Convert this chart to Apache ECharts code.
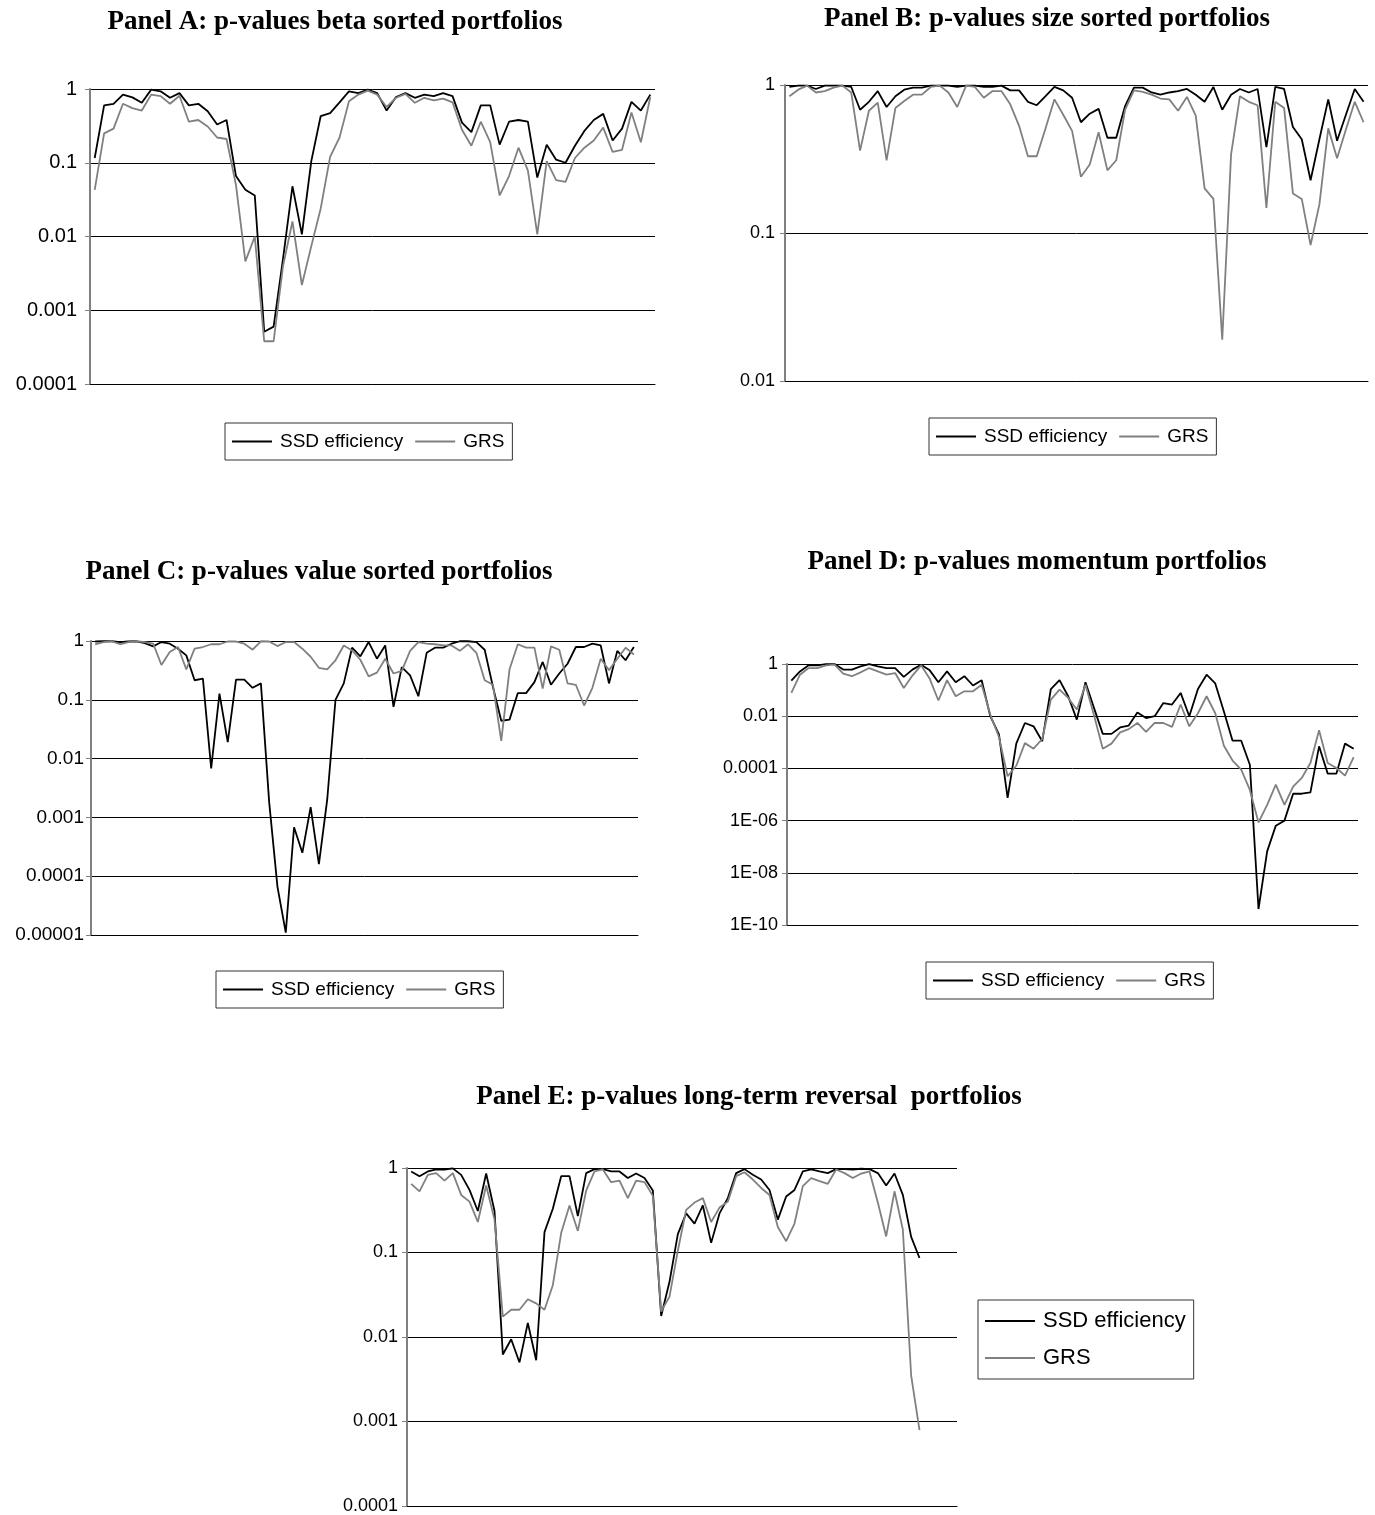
<!DOCTYPE html>
<html>
<head>
<meta charset="utf-8">
<script src="https://cdn.jsdelivr.net/npm/echarts@6/dist/echarts.min.js"></script>
<style>
html,body{margin:0;padding:0;background:#fff;}
#chart{width:1375px;height:1515px;}
</style>
</head>
<body>
<div id="chart"></div>
<script>
// ---------- DATA ----------
const seriesNames = ['SSD efficiency', 'GRS'];

const titleA = 'Panel A: p-values beta sorted portfolios';
const titleB = 'Panel B: p-values size sorted portfolios';
const titleC = 'Panel C: p-values value sorted portfolios';
const titleD = 'Panel D: p-values momentum portfolios';
const titleE = 'Panel E: p-values long-term reversal  portfolios';

const ticksA = ['1', '0.1', '0.01', '0.001', '0.0001'];
const ticksB = ['1', '0.1', '0.01'];
const ticksC = ['1', '0.1', '0.01', '0.001', '0.0001', '0.00001'];
const ticksD = ['1', '0.01', '0.0001', '1E-06', '1E-08', '1E-10'];
const ticksE = ['1', '0.1', '0.01', '0.001', '0.0001'];

const ssdA = [0.116, 0.6, 0.63, 0.84, 0.77, 0.65, 0.98, 0.93, 0.76, 0.88,
  0.6, 0.63, 0.5, 0.33, 0.38, 0.066, 0.043, 0.036, 0.00051, 0.0006,
  0.005, 0.048, 0.0107, 0.105, 0.43, 0.47, 0.66, 0.93, 0.88, 0.98,
  0.88, 0.51, 0.78, 0.88, 0.76, 0.84, 0.8, 0.88, 0.8, 0.35,
  0.26, 0.6, 0.6, 0.176, 0.36, 0.38, 0.36, 0.063, 0.175, 0.11,
  0.1, 0.17, 0.27, 0.38, 0.46, 0.2, 0.29, 0.67, 0.51, 0.84];
const grsA = [0.043, 0.25, 0.29, 0.63, 0.55, 0.51, 0.84, 0.8, 0.63, 0.81,
  0.36, 0.38, 0.31, 0.22, 0.21, 0.05, 0.0046, 0.01, 0.00038, 0.00038,
  0.004, 0.016, 0.0022, 0.0074, 0.024, 0.12, 0.22, 0.68, 0.84, 0.95,
  0.84, 0.57, 0.76, 0.86, 0.65, 0.76, 0.7, 0.74, 0.66, 0.28,
  0.17, 0.36, 0.19, 0.036, 0.066, 0.16, 0.079, 0.0107, 0.105, 0.058,
  0.055, 0.116, 0.16, 0.2, 0.3, 0.14, 0.15, 0.48, 0.19, 0.78];

const ssdB = [0.97, 0.99, 0.99, 0.94, 0.99, 0.99, 0.99, 0.97, 0.68, 0.77,
  0.91, 0.71, 0.84, 0.93, 0.96, 0.96, 0.99, 0.99, 0.99, 0.97,
  0.99, 0.99, 0.97, 0.97, 0.99, 0.92, 0.92, 0.77, 0.73, 0.84,
  0.97, 0.92, 0.82, 0.56, 0.64, 0.69, 0.44, 0.44, 0.72, 0.96,
  0.96, 0.89, 0.86, 0.89, 0.91, 0.94, 0.86, 0.77, 0.97, 0.68,
  0.86, 0.94, 0.89, 0.94, 0.38, 0.97, 0.94, 0.52, 0.43, 0.227,
  0.43, 0.8, 0.42, 0.63, 0.94, 0.77];
const grsB = [0.84, 0.93, 0.99, 0.89, 0.91, 0.96, 0.99, 0.89, 0.36, 0.67,
  0.76, 0.31, 0.7, 0.78, 0.86, 0.86, 0.97, 0.99, 0.89, 0.71,
  0.99, 0.97, 0.82, 0.91, 0.91, 0.74, 0.53, 0.33, 0.33, 0.51,
  0.8, 0.63, 0.49, 0.24, 0.29, 0.48, 0.265, 0.31, 0.68, 0.92,
  0.9, 0.86, 0.81, 0.8, 0.67, 0.83, 0.62, 0.2, 0.17, 0.019,
  0.34, 0.84, 0.77, 0.73, 0.148, 0.77, 0.7, 0.185, 0.17, 0.083,
  0.156, 0.51, 0.32, 0.5, 0.77, 0.56];

const ssdC = [0.98, 0.99, 0.99, 0.96, 0.98, 0.99, 0.92, 0.81, 0.96, 0.9,
  0.74, 0.57, 0.215, 0.23, 0.0068, 0.127, 0.019, 0.22, 0.22, 0.16,
  0.19, 0.0018, 0.000066, 0.000011, 0.00068, 0.00025, 0.0015, 0.00016, 0.002, 0.1,
  0.19, 0.77, 0.55, 0.96, 0.5, 0.84, 0.076, 0.36, 0.26, 0.115,
  0.63, 0.77, 0.77, 0.9, 0.99, 0.99, 0.96, 0.71, 0.165, 0.044,
  0.046, 0.13, 0.13, 0.2, 0.44, 0.18, 0.28, 0.41, 0.79, 0.79,
  0.9, 0.84, 0.19, 0.68, 0.47, 0.79];
const grsC = [0.88, 0.96, 0.99, 0.88, 0.96, 0.99, 0.96, 0.9, 0.39, 0.65,
  0.79, 0.33, 0.74, 0.79, 0.88, 0.88, 0.98, 0.98, 0.9, 0.71,
  0.99, 0.98, 0.82, 0.96, 0.96, 0.74, 0.54, 0.35, 0.33, 0.47,
  0.84, 0.69, 0.48, 0.25, 0.29, 0.5, 0.28, 0.31, 0.68, 0.96,
  0.9, 0.88, 0.84, 0.84, 0.68, 0.88, 0.63, 0.215, 0.18, 0.02,
  0.33, 0.88, 0.77, 0.77, 0.155, 0.81, 0.71, 0.19, 0.18, 0.08,
  0.16, 0.5, 0.32, 0.5, 0.77, 0.59];

const ssdD = [0.23, 0.52, 0.89, 0.89, 0.99, 0.99, 0.61, 0.61, 0.81, 0.99,
  0.81, 0.7, 0.7, 0.32, 0.61, 0.94, 0.57, 0.2, 0.52, 0.2,
  0.34, 0.15, 0.24, 0.01, 0.002, 7.4e-6, 0.00089, 0.0055, 0.0041, 0.0011,
  0.11, 0.24, 0.058, 0.0074, 0.2, 0.02, 0.0021, 0.0021, 0.0037, 0.0044,
  0.014, 0.0085, 0.01, 0.032, 0.028, 0.078, 0.01, 0.11, 0.39, 0.18,
  0.015, 0.00115, 0.00115, 0.000138, 4.1e-10, 6.6e-8, 6.4e-7, 1e-6, 1.07e-5, 1.07e-5,
  1.2e-5, 0.0007, 6.3e-5, 6.3e-5, 0.00089, 0.00057];
const grsD = [0.078, 0.39, 0.7, 0.7, 0.89, 0.94, 0.43, 0.34, 0.48, 0.7,
  0.52, 0.39, 0.45, 0.12, 0.36, 0.89, 0.27, 0.04, 0.24, 0.058,
  0.09, 0.09, 0.16, 0.0115, 0.0016, 5e-5, 0.000126, 0.00093, 0.00057, 0.00134,
  0.043, 0.104, 0.05, 0.018, 0.16, 0.0105, 0.00057, 0.00089, 0.0024, 0.0032,
  0.0055, 0.0025, 0.0055, 0.0055, 0.0039, 0.028, 0.0041, 0.013, 0.058, 0.013,
  0.00074, 0.0002, 8.9e-5, 1.5e-5, 8.5e-7, 4e-6, 2.4e-5, 4e-6, 2e-5, 4.3e-5,
  0.00016, 0.0029, 0.00016, 0.000104, 5.3e-5, 0.00027];

const ssdE = [0.91, 0.8, 0.91, 0.96, 0.96, 0.99, 0.83, 0.55, 0.31, 0.86,
  0.31, 0.0062, 0.0094, 0.005, 0.0147, 0.0053, 0.174, 0.33, 0.8, 0.8,
  0.27, 0.87, 0.97, 0.97, 0.91, 0.91, 0.76, 0.86, 0.76, 0.54,
  0.0177, 0.045, 0.165, 0.29, 0.22, 0.36, 0.13, 0.29, 0.44, 0.87,
  0.97, 0.83, 0.73, 0.55, 0.245, 0.46, 0.55, 0.91, 0.96, 0.91,
  0.87, 0.97, 0.97, 0.96, 0.98, 0.97, 0.87, 0.62, 0.86, 0.48,
  0.153, 0.086];
const grsE = [0.65, 0.53, 0.83, 0.87, 0.71, 0.87, 0.48, 0.4, 0.23, 0.62,
  0.245, 0.0174, 0.021, 0.021, 0.028, 0.025, 0.021, 0.041, 0.17, 0.36,
  0.18, 0.54, 0.91, 0.96, 0.68, 0.71, 0.44, 0.71, 0.68, 0.47,
  0.02, 0.03, 0.105, 0.32, 0.39, 0.44, 0.23, 0.34, 0.4, 0.8,
  0.89, 0.73, 0.58, 0.48, 0.2, 0.136, 0.22, 0.61, 0.76, 0.7,
  0.65, 0.96, 0.87, 0.76, 0.86, 0.91, 0.39, 0.155, 0.53, 0.187,
  0.0035, 0.00079];

// number of categories on each x axis
const nCatA = 60, nCatB = 66, nCatC = 66, nCatD = 66, nCatE = 66;

// ---------- BUILD ----------
function cats(n) { const a = []; for (let i = 1; i <= n; i++) a.push(String(i)); return a; }

const panels = [
  { title: titleA, ticks: ticksA, step: 1, ssd: ssdA, grs: grsA, n: nCatA,
    grid: { left: 90, top: 89, width: 565, height: 295 }, tx: 335, ty: 22,
    lab: { size: 20, margin: 13 }, legend: { left: 225, top: 423 } },
  { title: titleB, ticks: ticksB, step: 1, ssd: ssdB, grs: grsB, n: nCatB,
    grid: { left: 785, top: 85, width: 583, height: 296 }, tx: 1047, ty: 19,
    lab: { size: 18, margin: 10 }, legend: { left: 929, top: 418 } },
  { title: titleC, ticks: ticksC, step: 1, ssd: ssdC, grs: grsC, n: nCatC,
    grid: { left: 91, top: 641, width: 547, height: 294 }, tx: 319, ty: 572,
    lab: { size: 19, margin: 7 }, legend: { left: 216, top: 971 } },
  { title: titleD, ticks: ticksD, step: 2, ssd: ssdD, grs: grsD, n: nCatD,
    grid: { left: 787, top: 664, width: 571, height: 261 }, tx: 1037, ty: 562,
    lab: { size: 18, margin: 9 }, legend: { left: 926, top: 962 } },
  { title: titleE, ticks: ticksE, step: 1, ssd: ssdE, grs: grsE, n: nCatE,
    grid: { left: 407, top: 1168, width: 550, height: 338 }, tx: 749, ty: 1097,
    lab: { size: 18, margin: 9 }, legend: { left: 978, top: 1300 } }
];

const grids = [], xAxes = [], yAxes = [], series = [], legends = [], graphics = [];
panels.forEach((p, k) => {
  grids.push(Object.assign({ containLabel: false }, p.grid));
  xAxes.push({
    type: 'category', gridIndex: k, data: cats(p.n), boundaryGap: true,
    axisLine: { show: true, lineStyle: { color: '#000', width: 1 } },
    axisTick: { show: false }, axisLabel: { show: false }, splitLine: { show: false }
  });
  const decades = (p.ticks.length - 1) * p.step;
  yAxes.push({
    type: 'log', logBase: 10, gridIndex: k,
    min: Math.pow(10, -decades), max: 1, interval: p.step,
    axisLine: { show: true, lineStyle: { color: '#808080', width: 2 } },
    axisTick: { show: true, inside: false, length: 5, lineStyle: { color: '#808080', width: 1 } },
    splitLine: { show: true, lineStyle: { color: '#000', width: 1 } },
    axisLabel: {
      margin: p.lab.margin, color: '#000', fontFamily: 'Liberation Sans, Arial', fontSize: p.lab.size,
      formatter: (function (ticks, step) {
        return function (v) {
          const idx = Math.round(-Math.log10(v) / step);
          return ticks[idx] !== undefined ? ticks[idx] : '';
        };
      })(p.ticks, p.step)
    }
  });
  series.push({
    name: seriesNames[0], type: 'line', xAxisIndex: k, yAxisIndex: k, data: p.ssd,
    symbol: 'none', lineStyle: { color: '#000', width: 1.8 }, itemStyle: { color: '#000' }
  });
  series.push({
    name: seriesNames[1], type: 'line', xAxisIndex: k, yAxisIndex: k, data: p.grs,
    symbol: 'none', lineStyle: { color: '#808080', width: 1.8 }, itemStyle: { color: '#808080' }
  });
  const isE = k === 4;
  legends.push({
    data: seriesNames.map(n => ({ name: n, icon: 'rect' })),
    left: p.legend.left, top: p.legend.top,
    orient: isE ? 'vertical' : 'horizontal',
    itemWidth: isE ? 50 : 40, itemHeight: 2, itemGap: isE ? 15 : 12,
    padding: isE ? [10, 8, 10, 7] : [9, 8, 9, 7],
    borderColor: '#333', borderWidth: 1, backgroundColor: '#fff',
    selectedMode: false,
    textStyle: { color: '#000', fontFamily: 'Liberation Sans, Arial', fontSize: isE ? 22 : 19,
      padding: [0, 0, 0, 3] }
  });
  graphics.push({
    type: 'text', x: p.tx, y: p.ty,
    style: { text: p.title, font: 'bold 27px "Liberation Serif", "Times New Roman", serif',
      fill: '#000', textAlign: 'center', textVerticalAlign: 'middle' }
  });
});

const chart = echarts.init(document.getElementById('chart'), null, { renderer: 'canvas' });
chart.setOption({
  backgroundColor: '#fff',
  animation: false,
  grid: grids, xAxis: xAxes, yAxis: yAxes, series: series,
  legend: legends, graphic: graphics
});
</script>
</body>
</html>
